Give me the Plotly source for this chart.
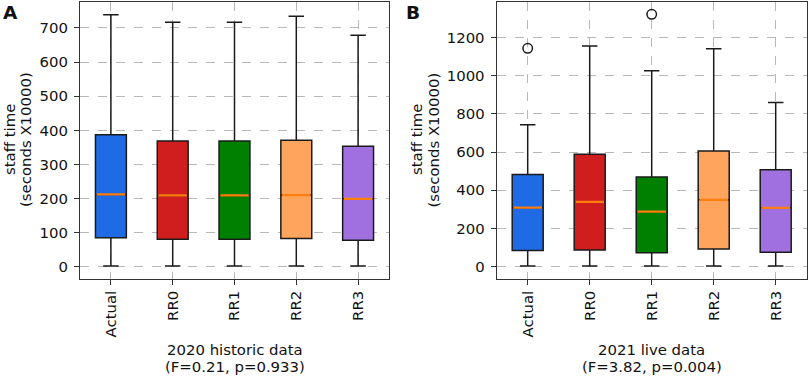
import plotly.graph_objects as go

categories = ["Actual", "RR0", "RR1", "RR2", "RR3"]
colors = ["#1f6be6", "#d01e1f", "#008000", "#ffa45c", "#a070e0"]

# Panel A: 2020 historic data
a_low = [2, 2, 2, 2, 2]
a_q1 = [85, 81, 81, 83, 78]
a_med = [212, 209, 209, 210, 199]
a_q3 = [387, 369, 369, 371, 353]
a_high = [739, 717, 717, 734, 679]
a_out_cat = []
a_out_val = []

# Panel B: 2021 live data
b_low = [4, 4, 4, 4, 4]
b_q1 = [84, 87, 73, 93, 75]
b_med = [309, 339, 288, 350, 308]
b_q3 = [482, 589, 470, 605, 507]
b_high = [743, 1155, 1026, 1141, 860]
b_out_cat = ["Actual", "RR1"]
b_out_val = [1143, 1321]

W, H = 809, 377
FONT = "DejaVu Sans"
FS = 14.9
BOXW = 0.5

fig = go.Figure()

def add_panel(low, q1, med, q3, high, out_cat, out_val, xa, ya):
    pos = list(range(1, len(categories) + 1))
    for i, c in enumerate(categories):
        fig.add_trace(go.Box(
            x=[pos[i]], q1=[q1[i]], median=[med[i]], q3=[q3[i]],
            lowerfence=[low[i]], upperfence=[high[i]],
            width=BOXW, whiskerwidth=0.5,
            fillcolor=colors[i], line=dict(color="#1a1a1a", width=1.5),
            boxpoints=False, showlegend=False, hoverinfo="skip",
            xaxis=xa, yaxis=ya))
    mx, my = [], []
    for i in range(len(categories)):
        mx += [pos[i] - BOXW / 2 + 0.02, pos[i] + BOXW / 2 - 0.02, None]
        my += [med[i], med[i], None]
    fig.add_trace(go.Scatter(x=mx, y=my, mode="lines",
                             line=dict(color="#ff7f0e", width=2.2),
                             showlegend=False, hoverinfo="skip",
                             xaxis=xa, yaxis=ya))
    if out_cat:
        ox = [categories.index(c) + 1 for c in out_cat]
        fig.add_trace(go.Scatter(x=ox, y=out_val, mode="markers",
                                 marker=dict(symbol="circle-open", size=9.5,
                                             color="#1a1a1a",
                                             line=dict(width=1.5)),
                                 showlegend=False, hoverinfo="skip",
                                 xaxis=xa, yaxis=ya))

add_panel(a_low, a_q1, a_med, a_q3, a_high, a_out_cat, a_out_val, "x", "y")
add_panel(b_low, b_q1, b_med, b_q3, b_high, b_out_cat, b_out_val, "x2", "y2")

ydom = [1 - 278.7 / H, 1 - 1.7 / H]
axis_common = dict(
    showline=True, linecolor="#333", linewidth=1.2, mirror=True,
    ticks="outside", ticklen=5, tickcolor="#333", tickwidth=1.2,
    showgrid=True, gridcolor="#b8b8b8", griddash="dash", gridwidth=1,
    zeroline=False, tickfont=dict(family=FONT, size=FS, color="#111"),
)

tickvals = list(range(1, len(categories) + 1))
fig.update_layout(
    width=W, height=H, margin=dict(l=0, r=0, t=0, b=0),
    paper_bgcolor="white", plot_bgcolor="white",
    font=dict(family=FONT, color="#111"),
    xaxis=dict(domain=[80 / W, 389 / W], range=[0.5, 5.5],
               tickvals=tickvals, ticktext=categories, tickangle=-90,
               anchor="y", **axis_common),
    yaxis=dict(domain=ydom, range=[-35, 777], tickvals=list(range(0, 800, 100)),
               anchor="x", ticklabelstandoff=3, **axis_common),
    xaxis2=dict(domain=[496.7 / W, 806.7 / W], range=[0.5, 5.5],
                tickvals=tickvals, ticktext=categories, tickangle=-90,
                anchor="y2", **axis_common),
    yaxis2=dict(domain=ydom, range=[-63, 1387], tickvals=list(range(0, 1400, 200)),
                anchor="x2", ticklabelstandoff=3, **axis_common),
)

ann = []
def txt(x, y, t, size=FS, angle=0, bold=False):
    ann.append(dict(x=x / W, y=1 - y / H, xref="paper", yref="paper",
                    text=("<b>%s</b>" % t) if bold else t, showarrow=False,
                    textangle=angle, xanchor="center", yanchor="middle",
                    font=dict(family=FONT, size=size, color="#111")))

txt(10, 13, "A", size=18.5, bold=True)
txt(413, 13, "B", size=18.5, bold=True)
txt(10, 140, "staff time", angle=-90)
txt(26, 140, "(seconds X10000)", angle=-90)
txt(417, 140, "staff time", angle=-90)
txt(433.5, 140, "(seconds X10000)", angle=-90)
txt(234.5, 350, "2020 historic data")
txt(234.5, 366.5, "(F=0.21, p=0.933)")
txt(651.7, 350, "2021 live data")
txt(651.7, 366.5, "(F=3.82, p=0.004)")
fig.update_layout(annotations=ann)

fig.write_html("out.html", config={"displayModeBar": False},
               post_script="document.body.style.margin='0';document.body.style.overflow='hidden';")
